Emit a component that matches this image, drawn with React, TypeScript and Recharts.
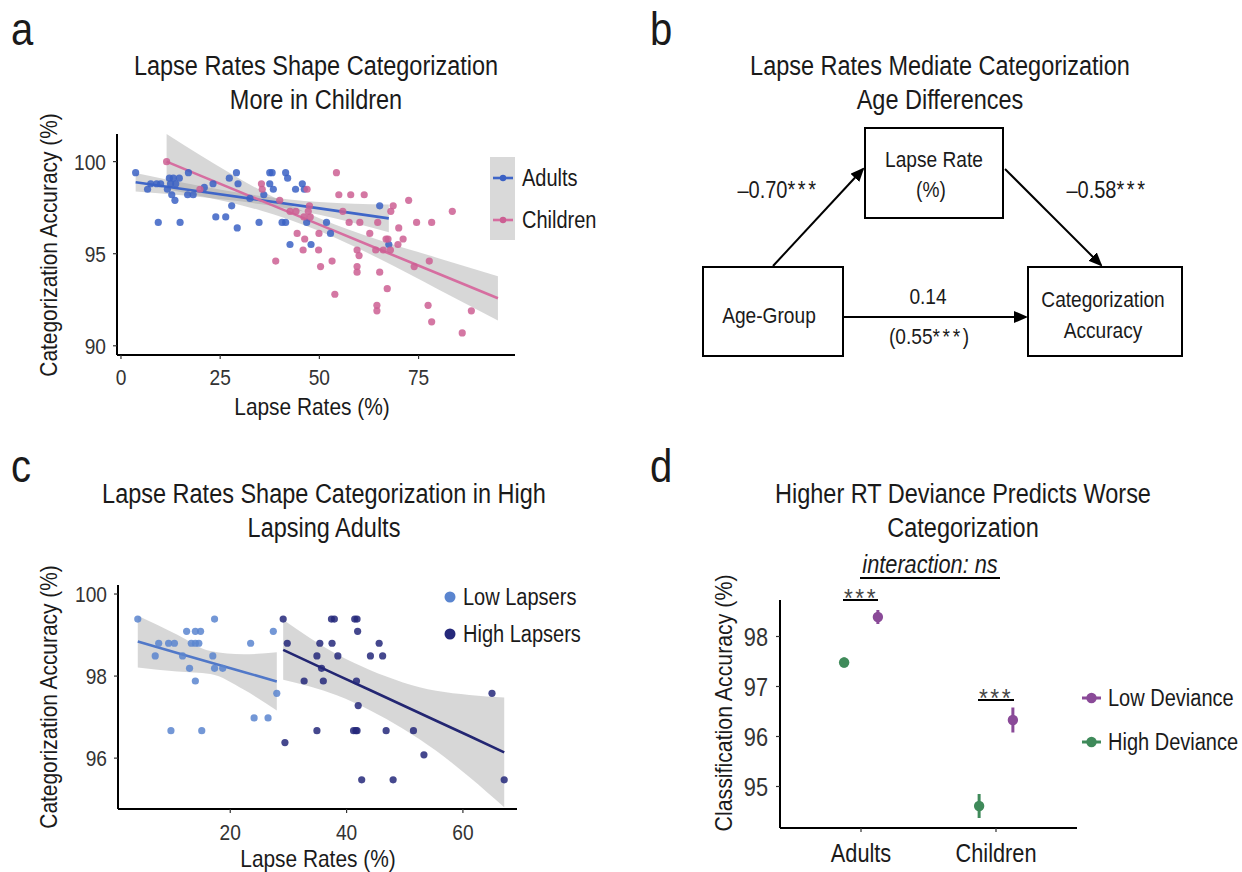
import React from "react";
import { ComposedChart, Scatter, Line, Area, XAxis, YAxis, ErrorBar } from "recharts";

const FONT = '"Liberation Sans", Arial, Helvetica, sans-serif';
const SX = 0.87; // condensed look

// ---------- panel a: lapse rate vs categorization accuracy ----------
const adultsLapse = [3.7, 6.7, 7.5, 9, 10, 9.4, 11.7, 12.2, 13.2, 14.7, 12.8, 13.6, 12.5, 13.8, 14.9, 17, 16.8, 18.2, 21, 23.2, 23.9, 26.4, 27.3, 29.1, 29.5, 27.9, 29.3, 32.5, 34.8, 36, 37.5, 38.1, 37.5, 38.4, 40.6, 41.5, 41.5, 42, 44, 42.6, 45.7, 46.2, 46.8, 47.9, 51.8, 52.8, 65.2, 67.5];
const adultsAcc = [99.4, 98.5, 98.8, 98.8, 98.8, 96.7, 98.5, 99.1, 99.1, 99.1, 98.2, 97.9, 98.8, 98.8, 96.7, 99.4, 98.2, 98.2, 98.6, 98.8, 97.0, 97.0, 99.1, 99.4, 98.8, 97.6, 96.4, 98.0, 96.7, 98.2, 99.4, 99.4, 98.8, 98.5, 96.7, 96.7, 99.4, 99.1, 98.5, 95.5, 98.8, 98.5, 96.7, 95.5, 96.7, 96.1, 97.6, 95.5];

const childrenLapse = [11.5, 19.9, 35.4, 35.6, 39, 40, 42.6, 44.1, 44.4, 46.3, 45.9, 46.1, 46.9, 47.2, 47.5, 47.7, 49.9, 49.8, 50.3, 53.2, 53.9, 54.3, 54.9, 55.9, 57.5, 57.9, 59.5, 60, 59.5, 59.5, 60.2, 61.3, 62.7, 64.2, 64.7, 64.5, 64.5, 65.2, 66.1, 66.8, 67.3, 67.1, 67.9, 68, 68.6, 69.8, 70, 71.1, 72.5, 73.9, 74.5, 77.4, 77.7, 78.3, 78.3, 83.5, 86, 88.3];
const childrenAcc = [100.0, 98.5, 98.8, 98.5, 94.6, 97.9, 97.3, 97.3, 96.1, 95.8, 95.2, 97.0, 98.5, 97.3, 97.6, 97.0, 96.1, 95.2, 94.3, 94.6, 92.8, 99.4, 98.2, 97.3, 96.7, 98.2, 95.2, 94.9, 94.3, 94.0, 96.7, 98.2, 96.1, 95.2, 96.7, 92.2, 91.9, 94.0, 95.2, 95.8, 95.8, 93.1, 95.2, 97.3, 97.6, 95.5, 96.4, 95.8, 97.9, 94.3, 96.7, 92.2, 94.6, 96.7, 91.3, 97.3, 90.7, 91.9];

// fitted lines with confidence bands
const adultsFitX = [3.7, 20, 35, 50, 67.5];
const adultsFitY = [98.88, 98.38, 97.92, 97.46, 96.92];
const adultsFitLo = [98.38, 98.08, 97.7, 97.11, 96.17];
const adultsFitHi = [99.38, 98.68, 98.14, 97.81, 97.67];

const childrenFitX = [11.5, 20, 35, 50, 65, 80, 95];
const childrenFitY = [100.0, 99.24, 97.91, 96.58, 95.24, 93.91, 92.58];
const childrenFitLo = [98.5, 98.14, 97.36, 96.23, 94.74, 93.06, 91.38];
const childrenFitHi = [101.5, 100.34, 98.46, 96.93, 95.74, 94.76, 93.78];

// ---------- panel c: low vs high lapsing adults ----------
const lowLapse = [4.1, 7.1, 7.7, 9.4, 10.4, 9.8, 11.8, 12.5, 14.0, 14.9, 13.3, 14.0, 14.6, 13.0, 14.0, 15.1, 17.3, 17.0, 17.3, 18.7, 23.5, 24.1, 26.5, 27.4, 28.0];
const lowAcc = [99.39, 98.49, 98.8, 98.8, 98.8, 96.67, 98.49, 99.09, 99.09, 99.09, 98.8, 98.8, 98.8, 98.19, 97.88, 96.67, 99.39, 98.49, 98.19, 98.19, 98.8, 96.98, 96.98, 99.09, 97.58];
const highLapse = [29.1, 29.8, 32.7, 29.4, 34.9, 35.4, 35.7, 36.0, 34.9, 37.4, 37.9, 37.5, 38.5, 41.4, 41.8, 41.9, 41.7, 42.0, 41.2, 41.6, 41.8, 42.6, 44.1, 45.6, 46.2, 46.8, 48.0, 51.5, 53.3, 65.0, 67.1];
const highAcc = [99.39, 98.8, 97.88, 96.38, 98.49, 98.8, 98.19, 97.88, 96.67, 99.39, 99.39, 98.8, 98.49, 99.39, 99.39, 99.09, 97.88, 97.28, 96.67, 96.67, 96.67, 95.47, 98.49, 98.8, 98.49, 96.67, 95.47, 96.67, 96.08, 97.58, 95.47];

const lowFitX = [4.1, 10.9, 16.6, 22.3, 28];
const lowFitY = [98.84, 98.56, 98.33, 98.1, 97.87];
const lowFitLo = [98.21, 98.11, 98.05, 97.67, 97.16];
const lowFitHi = [99.47, 99.01, 98.61, 98.53, 98.58];

const highFitX = [29.1, 38.3, 44, 55.4, 61.1, 67.1];
const highFitY = [98.64, 98.03, 97.66, 96.91, 96.54, 96.14];
const highFitLo = [97.91, 97.53, 97.17, 96.18, 95.54, 94.8];
const highFitHi = [99.37, 98.53, 98.15, 97.64, 97.54, 97.48];

// ---------- panel d: RT deviance ----------
const groups = ["Adults", "Children"];
const lowDevMean = [98.39, 96.33];
const lowDevErr = [0.14, 0.25];
const highDevMean = [97.48, 94.61];
const highDevErr = [0.1, 0.24];

const BLUE = "#3b61c4";
const PINK = "#cc5f93";
const LIGHTBLUE = "#5a85cf";
const NAVY = "#25287a";
const PURPLE = "#8a4a98";
const GREEN = "#3f8a5a";

const pts = (xs: number[], ys: number[]) => xs.map((x, i) => ({ x, y: ys[i] }));
const band = (xs: number[], lo: number[], hi: number[]) => xs.map((x, i) => ({ x, band: [lo[i], hi[i]] }));

// narrow text: regular sans squeezed horizontally
function NT({ x, y, size, anchor = "start", rotate = 0, fill = "#1a1a1a", italic = false, children }: any) {
  return (
    <text transform={`translate(${x},${y}) rotate(${rotate}) scale(${SX},1)`} fontSize={size} textAnchor={anchor}
      fontFamily={FONT} fill={fill} fontStyle={italic ? "italic" : "normal"}>
      {children}
    </text>
  );
}

const Stars = () => <tspan letterSpacing={3}>***</tspan>;

const xTick = (size: number, fill = "#333", fmt = (v: any) => v) => (p: any) =>
  <NT x={p.x} y={p.y + size * 0.71} size={size} anchor="middle" fill={fill}>{fmt(p.payload.value)}</NT>;
const yTick = (size: number) => (p: any) =>
  <NT x={p.x} y={p.y + size * 0.36} size={size} anchor="end" fill="#333">{p.payload.value}</NT>;

const axisLine = { stroke: "#000", strokeWidth: 2 };
const tickLine = { stroke: "#333", strokeWidth: 1.2 };

const dot = (color: string, r: number, op = 0.85) => (p: any) =>
  <circle cx={p.cx} cy={p.cy} r={r} fill={color} fillOpacity={op} />;

function PanelA() {
  return (
    <div style={{ position: "absolute", left: 0, top: 0 }}>
      <ComposedChart width={540} height={430} margin={{ top: 134, right: 25, bottom: 0, left: 57 }}>
        <XAxis type="number" dataKey="x" domain={[-1, 99.3]} ticks={[0, 25, 50, 75]} interval={0} allowDataOverflow
          height={75} axisLine={axisLine} tickLine={tickLine} tickSize={4} tickMargin={10} tick={xTick(22)} />
        <YAxis type="number" dataKey="y" domain={[89.5, 101.5]} ticks={[90, 95, 100]} interval={0} allowDataOverflow
          width={60} axisLine={axisLine} tickLine={tickLine} tickSize={4} tickMargin={7} tick={yTick(22)} />
        <Scatter data={pts(adultsLapse, adultsAcc)} shape={dot(BLUE, 3.6)} isAnimationActive={false} />
        <Scatter data={pts(childrenLapse, childrenAcc)} shape={dot(PINK, 3.6)} isAnimationActive={false} />
        <Area data={band(adultsFitX, adultsFitLo, adultsFitHi)} dataKey="band" type="monotone" stroke="none"
          fill="#9a9a9a" fillOpacity={0.4} isAnimationActive={false} />
        <Area data={band(childrenFitX, childrenFitLo, childrenFitHi)} dataKey="band" type="monotone" stroke="none"
          fill="#9a9a9a" fillOpacity={0.4} isAnimationActive={false} />
        <Line data={pts(adultsFitX, adultsFitY)} dataKey="y" type="linear" stroke="#3f66c8" strokeWidth={2.6}
          dot={false} isAnimationActive={false} />
        <Line data={pts(childrenFitX, childrenFitY)} dataKey="y" type="linear" stroke="#d66ea0" strokeWidth={2.6}
          dot={false} isAnimationActive={false} />
      </ComposedChart>
    </div>
  );
}

function PanelC() {
  return (
    <div style={{ position: "absolute", left: 0, top: 450 }}>
      <ComposedChart width={540} height={420} margin={{ top: 135, right: 23, bottom: 0, left: 58 }}>
        <XAxis type="number" dataKey="x" domain={[0.7, 69.3]} ticks={[20, 40, 60]} interval={0} allowDataOverflow
          height={61} axisLine={axisLine} tickLine={tickLine} tickSize={4} tickMargin={11} tick={xTick(22)} />
        <YAxis type="number" dataKey="y" domain={[94.76, 100.22]} ticks={[96, 98, 100]} interval={0} allowDataOverflow
          width={60} axisLine={axisLine} tickLine={tickLine} tickSize={4} tickMargin={7} tick={yTick(22)} />
        <Scatter data={pts(lowLapse, lowAcc)} shape={dot(LIGHTBLUE, 3.6)} isAnimationActive={false} />
        <Scatter data={pts(highLapse, highAcc)} shape={dot(NAVY, 3.6)} isAnimationActive={false} />
        <Area data={band(lowFitX, lowFitLo, lowFitHi)} dataKey="band" type="monotone" stroke="none"
          fill="#9a9a9a" fillOpacity={0.4} isAnimationActive={false} />
        <Area data={band(highFitX, highFitLo, highFitHi)} dataKey="band" type="monotone" stroke="none"
          fill="#9a9a9a" fillOpacity={0.4} isAnimationActive={false} />
        <Line data={pts(lowFitX, lowFitY)} dataKey="y" type="linear" stroke="#5178c8" strokeWidth={2.6}
          dot={false} isAnimationActive={false} />
        <Line data={pts(highFitX, highFitY)} dataKey="y" type="linear" stroke="#232672" strokeWidth={2.6}
          dot={false} isAnimationActive={false} />
      </ComposedChart>
    </div>
  );
}

function PanelD() {
  const low = groups.map((g, i) => ({ x: i + 1 + 0.125, y: lowDevMean[i], err: lowDevErr[i] }));
  const high = groups.map((g, i) => ({ x: i + 1 - 0.125, y: highDevMean[i], err: highDevErr[i] }));
  return (
    <div style={{ position: "absolute", left: 700, top: 560 }}>
      <ComposedChart width={400} height={312} margin={{ top: 40, right: 23, bottom: 0, left: 20 }}>
        <XAxis type="number" dataKey="x" domain={[0.4, 2.6]} ticks={[1, 2]} interval={0} allowDataOverflow
          height={44} axisLine={axisLine} tickLine={tickLine} tickSize={4} tickMargin={12}
          tick={xTick(25, "#1a1a1a", (v: number) => groups[v - 1])} />
        <YAxis type="number" dataKey="y" domain={[94.17, 98.73]} ticks={[95, 96, 97, 98]} interval={0} allowDataOverflow
          width={60} axisLine={axisLine} tickLine={tickLine} tickSize={4} tickMargin={8} tick={yTick(25)} />
        <Scatter data={high} shape={dot(GREEN, 5.2, 1)} isAnimationActive={false}>
          <ErrorBar dataKey="err" direction="y" width={0} stroke={GREEN} strokeWidth={3} />
        </Scatter>
        <Scatter data={low} shape={dot(PURPLE, 5.2, 1)} isAnimationActive={false}>
          <ErrorBar dataKey="err" direction="y" width={0} stroke={PURPLE} strokeWidth={3} />
        </Scatter>
      </ComposedChart>
    </div>
  );
}

function Overlay() {
  return (
    <svg width={1242} height={872} style={{ position: "absolute", left: 0, top: 0, pointerEvents: "none" }}>
      <defs>
        <marker id="arrow" markerWidth="14" markerHeight="12" refX="12" refY="6" orient="auto" markerUnits="userSpaceOnUse">
          <path d="M0,0 L14,6 L0,12 z" fill="#000" />
        </marker>
      </defs>
      {/* panel letters */}
      <NT x={11} y={45} size={46}>a</NT>
      <NT x={650} y={45} size={46}>b</NT>
      <NT x={11} y={482} size={46}>c</NT>
      <NT x={650} y={482} size={46}>d</NT>

      {/* titles */}
      <NT x={316} y={75} size={27} anchor="middle">Lapse Rates Shape Categorization</NT>
      <NT x={316} y={109} size={27} anchor="middle">More in Children</NT>
      <NT x={940} y={75} size={27} anchor="middle">Lapse Rates Mediate Categorization</NT>
      <NT x={940} y={109} size={27} anchor="middle">Age Differences</NT>
      <NT x={324} y={503} size={27} anchor="middle">Lapse Rates Shape Categorization in High</NT>
      <NT x={324} y={537} size={27} anchor="middle">Lapsing Adults</NT>
      <NT x={963} y={503} size={27} anchor="middle">Higher RT Deviance Predicts Worse</NT>
      <NT x={963} y={537} size={27} anchor="middle">Categorization</NT>

      {/* axis titles */}
      <NT x={312} y={415} size={24} anchor="middle">Lapse Rates (%)</NT>
      <NT x={57} y={245} size={24} anchor="middle" rotate={-90}>Categorization Accuracy (%)</NT>
      <NT x={318} y={867} size={24} anchor="middle">Lapse Rates (%)</NT>
      <NT x={57} y={697} size={24} anchor="middle" rotate={-90}>Categorization Accuracy (%)</NT>
      <NT x={732} y={703} size={24.5} anchor="middle" rotate={-90}>Classification Accuracy (%)</NT>

      {/* legend a */}
      <rect x={490} y={157} width={25} height={83} fill="#d9d9d9" />
      <line x1={493} y1={178} x2={513} y2={178} stroke="#3f66c8" strokeWidth={2.6} />
      <circle cx={503} cy={178} r={3.2} fill={BLUE} />
      <line x1={493} y1={220} x2={513} y2={220} stroke="#d66ea0" strokeWidth={2.6} />
      <circle cx={503} cy={220} r={3.2} fill={PINK} />
      <NT x={522} y={186} size={23}>Adults</NT>
      <NT x={522} y={228} size={23}>Children</NT>

      {/* legend c */}
      <circle cx={450} cy={597} r={5.5} fill={LIGHTBLUE} />
      <circle cx={450} cy={634} r={5.5} fill={NAVY} />
      <NT x={463} y={605} size={23}>Low Lapsers</NT>
      <NT x={463} y={642} size={23}>High Lapsers</NT>

      {/* legend d */}
      <line x1={1082} y1={698} x2={1101} y2={698} stroke={PURPLE} strokeWidth={3} />
      <circle cx={1091.5} cy={698} r={5.2} fill={PURPLE} />
      <line x1={1082} y1={742} x2={1101} y2={742} stroke={GREEN} strokeWidth={3} />
      <circle cx={1091.5} cy={742} r={5.2} fill={GREEN} />
      <NT x={1108} y={706} size={23}>Low Deviance</NT>
      <NT x={1108} y={750} size={23}>High Deviance</NT>

      {/* significance annotations d */}
      <NT x={930} y={573} size={25} anchor="middle" italic>interaction: ns</NT>
      <line x1={860} y1={578} x2={1000} y2={578} stroke="#000" strokeWidth={2} />
      <NT x={861} y={607} size={26} anchor="middle" fill="#444"><Stars /></NT>
      <line x1={843} y1={600} x2={878} y2={600} stroke="#000" strokeWidth={2} />
      <NT x={996} y={707} size={26} anchor="middle" fill="#444"><Stars /></NT>
      <line x1={978} y1={700} x2={1014} y2={700} stroke="#000" strokeWidth={2} />

      {/* panel b: mediation diagram */}
      <g fill="none" stroke="#000" strokeWidth={2}>
        <rect x={865} y={128} width={138} height={90} />
        <rect x={703} y={267} width={140} height={89} />
        <rect x={1028} y={267} width={154} height={89} />
        <line x1={773} y1={266} x2={863} y2={169} markerEnd="url(#arrow)" />
        <line x1={1005} y1={169} x2={1101} y2={265} markerEnd="url(#arrow)" />
        <line x1={843} y1={317} x2={1026} y2={317} markerEnd="url(#arrow)" />
      </g>
      <NT x={934} y={167} size={22} anchor="middle">Lapse Rate</NT>
      <NT x={931} y={197} size={22} anchor="middle">(%)</NT>
      <NT x={769} y={323} size={22} anchor="middle">Age-Group</NT>
      <NT x={1103} y={307} size={22} anchor="middle">Categorization</NT>
      <NT x={1103} y={338} size={22} anchor="middle">Accuracy</NT>
      <NT x={778} y={198} size={23} anchor="middle">–0.70<Stars /></NT>
      <NT x={1107} y={198} size={23} anchor="middle">–0.58<Stars /></NT>
      <NT x={928} y={304} size={22} anchor="middle">0.14</NT>
      <NT x={929} y={344} size={22} anchor="middle">(0.55<Stars />)</NT>
    </svg>
  );
}

export default function App() {
  return (
    <div style={{ position: "absolute", left: 0, top: 0, width: 1242, height: 872, background: "#fff", fontFamily: FONT }}>
      <PanelA />
      <PanelC />
      <PanelD />
      <Overlay />
    </div>
  );
}
